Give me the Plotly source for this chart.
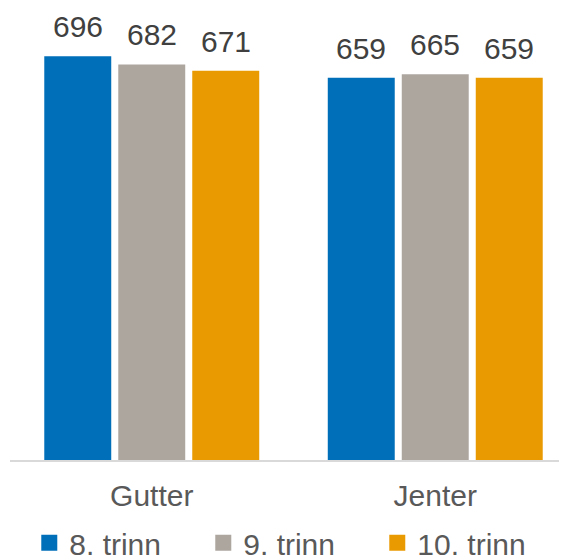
import plotly.graph_objects as go

categories = ["Gutter", "Jenter"]
series_names = ["8. trinn", "9. trinn", "10. trinn"]
values_8 = [696, 659]
values_9 = [682, 665]
values_10 = [671, 659]
colors = ["#006fb9", "#ada69f", "#e99a00"]

series_values = [values_8, values_9, values_10]
FONT = "Liberation Sans, Arial"

fig = go.Figure()
for i, (name, vals, col) in enumerate(zip(series_names, series_values, colors)):
    fig.add_trace(go.Bar(
        x=categories, y=vals, name=name, legendgroup=name, showlegend=False,
        marker=dict(color=col, line=dict(width=0)),
    ))
    for c, v in zip(categories, vals):
        fig.add_annotation(x=c, y=v, text=str(v), showarrow=False,
                           xanchor="center", yanchor="bottom",
                           xshift=(i - 1) * 74, yshift=11,
                           font=dict(size=30, color="#404040", family=FONT))

# legend entries with larger square swatches
for name, col in zip(series_names, colors):
    fig.add_trace(go.Scatter(
        x=[None], y=[None], mode="markers", name=name, legendgroup=name,
        marker=dict(symbol="square", size=16, color=col),
        showlegend=True, hoverinfo="skip",
    ))

fig.update_layout(
    width=575, height=564,
    margin=dict(l=2, r=6, t=46, b=112, autoexpand=False),
    plot_bgcolor="white", paper_bgcolor="white",
    barmode="group", bargap=0.217, bargroupgap=0.095,
    font=dict(family=FONT, size=30, color="#595959"),
    showlegend=True,
    legend=dict(orientation="h", x=0.034, xanchor="left", y=-0.14, yanchor="top",
                font=dict(size=30, color="#595959"),
                entrywidth=129, entrywidthmode="pixels",
                bgcolor="rgba(0,0,0,0)"),
)
fig.update_xaxes(range=[-0.5, 1.5], showline=True, linecolor="#d9d9d9", linewidth=2,
                 ticks="outside", ticklen=8, tickcolor="rgba(0,0,0,0)",
                 tickfont=dict(size=30, color="#595959"), showgrid=False, automargin=False)
fig.update_yaxes(range=[0, 700], visible=False, showgrid=False, zeroline=False, automargin=False)

fig.write_html("out.html")
